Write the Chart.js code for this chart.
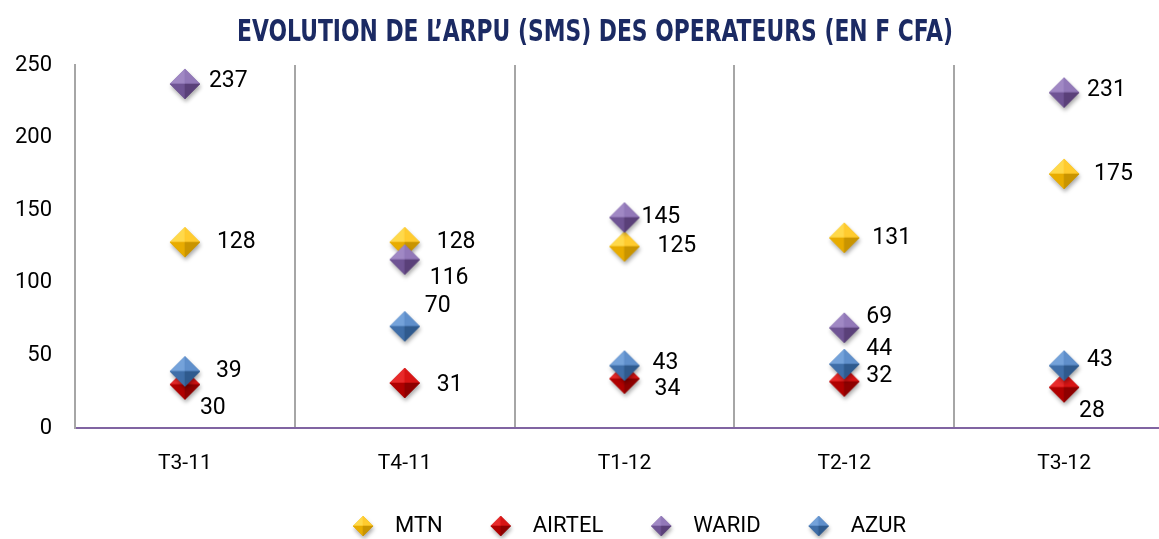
<!DOCTYPE html>
<html><head><meta charset="utf-8">
<script src="https://cdn.jsdelivr.net/npm/chart.js@4.4.1/dist/chart.umd.min.js"></script>
<style>
html,body{margin:0;padding:0;overflow:hidden;background:#fff;width:1159px;height:539px}
#wrap{width:1190px;height:539px;position:relative}
</style></head>
<body><div id="wrap"><canvas id="c" width="1190" height="539"></canvas></div>
<script>
const categories = ['T3-11','T4-11','T1-12','T2-12','T3-12'];
const seriesNames = ['MTN','AIRTEL','WARID','AZUR'];
const mtn = [128,128,125,131,175];
const airtel = [30,31,34,32,28];
const warid = [237,116,145,69,231];
const azur = [39,70,43,44,43];
const yTickStep = 50;
const yMax = 250;
const titleText = 'EVOLUTION DE L\u2019ARPU (SMS) DES OPERATEURS (EN F CFA)';

// styling (not data)
const facetColors = [
  ['#FFD94A','#FFCB2E','#E8AC00','#C99400'],
  ['#E82A2A','#D81414','#B00000','#8E0000'],
  ['#A088C4','#9278B8','#6F5494','#5A4079'],
  ['#74A2DA','#5F8FCB','#3F6EA8','#2F5A8E']
];
const labelOffsets = [
  [[32,0],[32,0],[33,0],[28,0],[30,0]],
  [[15,24],[32,2],[30,11],[22,-5],[15,24]],
  [[24,-3],[25,19],[17,0],[22,-11],[23,-2]],
  [[31,0],[20,-20],[28,-2],[22,-15],[23,-5]]
];

function diamond(r, cols, shadow) {
  const pad = 7;
  const s = 2*(r+pad);
  const c = document.createElement('canvas'); c.width = s; c.height = s;
  const g = c.getContext('2d');
  const cx = s/2, cy = s/2;
  if (shadow) {
    g.save();
    g.shadowColor='rgba(0,0,0,0.35)'; g.shadowBlur=4; g.shadowOffsetX=1; g.shadowOffsetY=3;
    g.beginPath(); g.moveTo(cx,cy-r); g.lineTo(cx+r,cy); g.lineTo(cx,cy+r); g.lineTo(cx-r,cy); g.closePath();
    g.fillStyle = cols[3]; g.fill(); g.restore();
  }
  function tri(a,b,c2,d,e,f,col){ g.beginPath(); g.moveTo(a,b); g.lineTo(c2,d); g.lineTo(e,f); g.closePath(); g.fillStyle=col; g.fill(); g.strokeStyle=col; g.lineWidth=0.6; g.stroke(); }
  tri(cx,cy-r, cx-r,cy, cx,cy, cols[0]);
  tri(cx,cy-r, cx+r,cy, cx,cy, cols[1]);
  tri(cx-r,cy, cx,cy+r, cx,cy, cols[2]);
  tri(cx+r,cy, cx,cy+r, cx,cy, cols[3]);
  return c;
}
const pointImgs = facetColors.map(c => diamond(15, c, true));
const legendImgs = facetColors.map(c => diamond(10, c, true));

const seriesValues = [mtn, airtel, warid, azur];
const datasets = seriesNames.map((name, i) => ({
  label: name,
  data: seriesValues[i],
  showLine: false,
  pointStyle: pointImgs[i],
  pointRadius: 15,
  pointHoverRadius: 15,
  backgroundColor: facetColors[i][1],
  borderColor: facetColors[i][1],
  order: 4 - i
}));

const labelPlugin = {
  id: 'valueLabels',
  afterDatasetsDraw(chart) {
    const ctx = chart.ctx;
    ctx.save();
    ctx.font = '23px Roboto';
    ctx.fillStyle = '#000';
    ctx.textAlign = 'left';
    ctx.textBaseline = 'middle';
    chart.data.datasets.forEach((ds, di) => {
      const meta = chart.getDatasetMeta(di);
      meta.data.forEach((pt, j) => {
        const off = labelOffsets[di][j];
        ctx.fillText(String(ds.data[j]), pt.x + off[0], pt.y + off[1]);
      });
    });
    ctx.restore();
  }
};
const layoutTweaks = {
  id: 'layoutTweaks',
  afterLayout(chart) {
    if (chart.legend) { chart.legend.left += 29; chart.legend.right += 29; }
    const tb = chart.titleBlock;
    if (tb && !tb._condensed) {
      const orig = tb.draw.bind(tb);
      tb.draw = function () {
        const ctx = this.ctx;
        const cx = (this.left + this.right) / 2;
        ctx.save();
        ctx.translate(cx, 0); ctx.scale(0.81, 1); ctx.translate(-cx, 0);
        orig();
        ctx.restore();
      };
      tb._condensed = true;
    }
  }
};

new Chart(document.getElementById('c'), {
  type: 'line',
  data: { labels: categories, datasets },
  plugins: [labelPlugin, layoutTweaks],
  options: {
    responsive: false,
    animation: false,
    layout: { padding: { left: 15, right: 15, top: 0, bottom: -8 } },
    plugins: {
      title: {
        display: true, text: titleText, color: '#1B2A63',
        font: { family: "'DejaVu Sans Condensed',sans-serif", size: 30, weight: 'bold' },
        padding: { top: 15, bottom: 14 }
      },
      legend: {
        position: 'bottom',
        labels: {
          usePointStyle: true, pointStyleWidth: 42, padding: 37, color: '#000',
          font: { family: 'Roboto', size: 22 },
          sort: (a, b) => a.datasetIndex - b.datasetIndex,
          generateLabels(chart) {
            const items = Chart.defaults.plugins.legend.labels.generateLabels(chart);
            items.forEach(it => { it.pointStyle = legendImgs[it.datasetIndex]; });
            return items;
          }
        }
      },
      tooltip: { enabled: false }
    },
    scales: {
      x: {
        offset: true,
        grid: { display: true, offset: true, color: '#A6A6A6', lineWidth: 2, drawTicks: false },
        border: { display: true, color: '#8064A2', width: 2 },
        ticks: { color: '#000', font: { family: 'Roboto', size: 21 }, padding: 23 },
        afterFit(s) { s.height = 50; }
      },
      y: {
        min: 0, max: yMax,
        grid: { display: false, drawTicks: false },
        border: { display: true, color: '#A6A6A6', width: 2 },
        ticks: { stepSize: yTickStep, color: '#000', font: { family: 'Roboto', size: 22 }, padding: 23 },
        afterFit(s) { s.width = 60; }
      }
    }
  }
});
</script>
</body></html>
